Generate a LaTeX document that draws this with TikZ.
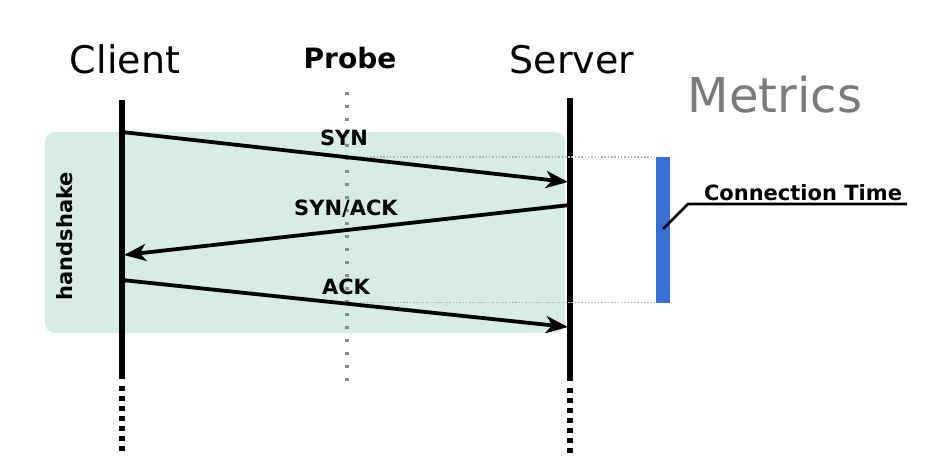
\documentclass[tikz,border=0pt]{standalone}
\usepackage{fontspec}
\setmainfont{DejaVu Sans}
\usetikzlibrary{arrows.meta}
\definecolor{boxfill}{HTML}{D6ECE6}
\definecolor{barblue}{HTML}{3A6FD8}
\definecolor{probegray}{HTML}{8A8A8A}
\definecolor{metricgray}{HTML}{7A7A7A}
\tikzset{
  lifeline/.style={line width=5.2pt},
  lifedots/.style={line width=5.2pt, dash pattern=on 5pt off 5pt},
  probeline/.style={line width=3.4pt, probegray, dash pattern=on 3.4pt off 9.6pt},
  guide/.style={line width=1.2pt, gray!60, dash pattern=on 1.5pt off 1.8pt},
  msg/.style={line width=3.8pt, -{Stealth[length=22pt,width=17pt,inset=6pt]}},
  msglabel/.style={font=\fontsize{21}{21}\bfseries\selectfont, anchor=base, inner sep=0pt},
  title/.style={font=\fontsize{38}{38}\selectfont, anchor=base, inner sep=0pt},
}
\begin{document}
\begin{tikzpicture}[x=1pt,y=-1pt]
\useasboundingbox (0,0) rectangle (943,464);
% shaded handshake box
\fill[boxfill, rounded corners=10pt] (45,132) rectangle (565,333);
\node[msglabel, rotate=90] (hs) at (72,236) {handshake};
% titles
\node[title] (client) at (125,73) {Client};
\node[title, font=\fontsize{28}{28}\bfseries\selectfont] (probe) at (350,68) {Probe};
\node[title] (server) at (572,73) {Server};
\node[title, font=\fontsize{48}{48}\selectfont, text=metricgray] (metrics) at (775,112) {Metrics};
% lifeline coordinates
\coordinate (cTop) at (122,100);
\coordinate (cBot) at (122,379);
\coordinate (cDot) at (122,386);
\coordinate (cEnd) at (122,451);
\coordinate (sTop) at (570,98);
\coordinate (sBot) at (570,381);
\coordinate (sDot) at (570,388);
\coordinate (sEnd) at (570,453);
\coordinate (pTop) at (347,92);
\coordinate (pBot) at (347,386);
% probe line
\draw[probeline] (pTop) -- (pBot);
% lifelines
\draw[lifeline] (cTop) -- (cBot);
\draw[lifeline] (sTop) -- (sBot);
\draw[lifedots] (cDot) -- (cEnd);
\draw[lifedots] (sDot) -- (sEnd);
% message endpoints
\coordinate (synA) at (122,132);
\coordinate (synB) at (568,182);
\coordinate (saA) at (570,205);
\coordinate (saB) at (124,255);
\coordinate (ackA) at (122,280);
\coordinate (ackB) at (568,327);
% metric bar
\coordinate (barTop) at (656,157);
\coordinate (barBot) at (656,302.5);
\coordinate (g1) at (347,157);
\coordinate (g2) at (347,302.5);
\draw[guide] (g1) -- (barTop);
\draw[guide] (g2) -- (barBot);
\fill[barblue] (656,157) rectangle (669.5,302.5);
% messages
\draw[msg] (synA) -- (synB);
\draw[msg] (saA) -- (saB);
\draw[msg] (ackA) -- (ackB);
\node[msglabel] (synl) at (344,145) {SYN};
\node[msglabel] (sal) at (346,215) {SYN/ACK};
\node[msglabel] (ackl) at (346,294) {ACK};
% connection time label
\node[msglabel] (ct) at (803,200) {Connection Time};
\coordinate (lead) at (663,229);
\coordinate (knee) at (688,204);
\coordinate (uEnd) at (907,204);
\draw[line width=2.6pt] (lead) -- (knee) -- (uEnd);
\end{tikzpicture}
\end{document}
